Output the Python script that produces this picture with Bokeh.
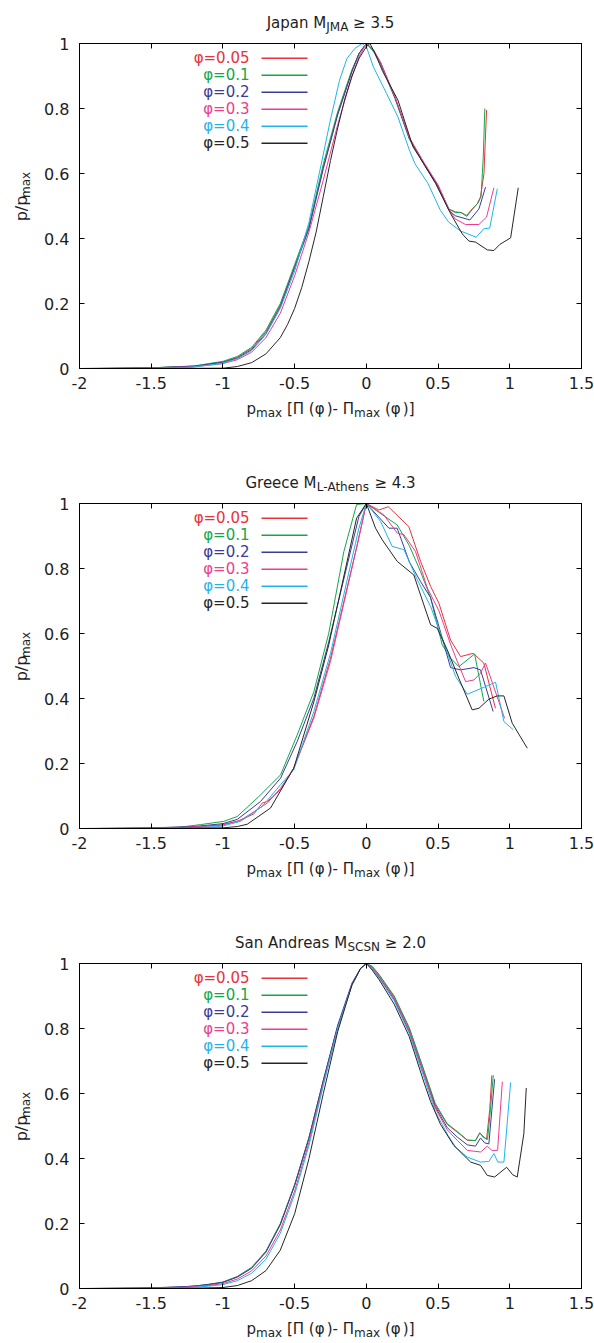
from bokeh.plotting import figure
from bokeh.layouts import column, row
from bokeh.models import Label, LinearAxis, FixedTicker, Range1d
from bokeh.embed import file_html
from bokeh.resources import INLINE

# ---------------- data ----------------
PHI_LABELS = ["φ=0.05", "φ=0.1", "φ=0.2", "φ=0.3", "φ=0.4", "φ=0.5"]
COLORS = ["#e8323c", "#12a84a", "#3b3b9c", "#ec3d8e", "#1fb4ec", "#262626"]

X_TICKS = [-2, -1.5, -1, -0.5, 0, 0.5, 1, 1.5]
X_TICK_LABELS = ["-2", "-1.5", "-1", "-0.5", "0", "0.5", "1", "1.5"]
Y_TICKS = [0, 0.2, 0.4, 0.6, 0.8, 1]
Y_TICK_LABELS = ["0", "0.2", "0.4", "0.6", "0.8", "1"]

# Japan
JP_005 = [(-2, 0), (-1.5, 0.002), (-1.2, 0.007), (-1.0, 0.02), (-0.9, 0.034), (-0.8, 0.062), (-0.7, 0.113),
          (-0.6, 0.195), (-0.5, 0.315), (-0.4, 0.435), (-0.3, 0.62), (-0.2, 0.785), (-0.1, 0.915), (-0.05, 0.97),
          (0, 1.0), (0.05, 0.978), (0.1, 0.94), (0.2, 0.835), (0.3, 0.71), (0.4, 0.632), (0.5, 0.562),
          (0.575, 0.491), (0.62, 0.482), (0.66, 0.48), (0.699, 0.471), (0.738, 0.491), (0.773, 0.507),
          (0.796, 0.528), (0.82, 0.6), (0.838, 0.795)]
JP_01 = [(-2, 0), (-1.5, 0.002), (-1.2, 0.008), (-1.0, 0.022), (-0.9, 0.037), (-0.8, 0.065), (-0.7, 0.118),
         (-0.6, 0.2), (-0.5, 0.32), (-0.4, 0.44), (-0.3, 0.63), (-0.2, 0.79), (-0.1, 0.92), (-0.05, 0.97),
         (0, 1.0), (0.05, 0.975), (0.1, 0.935), (0.2, 0.83), (0.3, 0.705), (0.4, 0.63), (0.5, 0.56),
         (0.575, 0.49), (0.62, 0.48), (0.66, 0.48), (0.7, 0.468), (0.74, 0.49), (0.78, 0.51), (0.8, 0.53),
         (0.815, 0.65), (0.826, 0.8)]
JP_02 = [(-1.88, 0), (-1.5, 0.002), (-1.2, 0.007), (-1.0, 0.019), (-0.9, 0.032), (-0.8, 0.058), (-0.7, 0.108),
         (-0.6, 0.19), (-0.5, 0.31), (-0.4, 0.43), (-0.3, 0.615), (-0.2, 0.78), (-0.1, 0.915), (-0.05, 0.97),
         (0, 1.0), (0.05, 0.98), (0.1, 0.94), (0.2, 0.833), (0.3, 0.708), (0.4, 0.63), (0.5, 0.56),
         (0.575, 0.487), (0.62, 0.47), (0.722, 0.457), (0.785, 0.491), (0.831, 0.558)]
JP_03 = [(-1.67, 0), (-1.2, 0.005), (-1.0, 0.015), (-0.9, 0.027), (-0.8, 0.05), (-0.7, 0.095), (-0.6, 0.17),
         (-0.5, 0.285), (-0.4, 0.42), (-0.3, 0.58), (-0.2, 0.75), (-0.1, 0.9), (-0.05, 0.96), (0, 1.0),
         (0.05, 0.98), (0.1, 0.94), (0.2, 0.835), (0.3, 0.71), (0.4, 0.635), (0.5, 0.565), (0.575, 0.49),
         (0.62, 0.46), (0.692, 0.443), (0.785, 0.443), (0.838, 0.466), (0.889, 0.556)]
JP_04 = [(-1.44, 0), (-1.225, 0.004), (-1.015, 0.015), (-0.9, 0.03), (-0.8, 0.055), (-0.7, 0.105), (-0.6, 0.185),
         (-0.5, 0.3), (-0.4, 0.45), (-0.3, 0.66), (-0.253, 0.76), (-0.187, 0.887), (-0.135, 0.954),
         (-0.08, 0.985), (-0.03, 1.0), (0, 0.99), (0.049, 0.928), (0.141, 0.846), (0.22, 0.774), (0.3, 0.672),
         (0.338, 0.631), (0.43, 0.569), (0.517, 0.486), (0.575, 0.45), (0.657, 0.423), (0.766, 0.404),
         (0.819, 0.43), (0.86, 0.432), (0.913, 0.553)]
JP_05 = [(-1.5, 0), (-1.0, 0.001), (-0.9, 0.006), (-0.8, 0.018), (-0.7, 0.045), (-0.6, 0.095), (-0.55, 0.135),
         (-0.5, 0.185), (-0.45, 0.25), (-0.4, 0.33), (-0.35, 0.42), (-0.3, 0.53), (-0.25, 0.64), (-0.2, 0.74),
         (-0.15, 0.83), (-0.1, 0.9), (-0.05, 0.955), (0, 0.99), (0.025, 1.0), (0.06, 0.97), (0.115, 0.913),
         (0.22, 0.826), (0.325, 0.682), (0.4, 0.63), (0.483, 0.569), (0.588, 0.476), (0.669, 0.414),
         (0.715, 0.392), (0.761, 0.389), (0.843, 0.365), (0.889, 0.363), (0.931, 0.382), (1.006, 0.402),
         (1.059, 0.556)]

# Greece
GR_005 = [(-2, 0), (-1.5, 0.001), (-1.2, 0.005), (-1.017, 0.011), (-0.9, 0.022), (-0.784, 0.045),
          (-0.726, 0.078), (-0.691, 0.083), (-0.598, 0.119), (-0.506, 0.186), (-0.366, 0.345), (-0.25, 0.524),
          (-0.064, 0.872), (0, 1.0), (0.087, 0.98), (0.153, 0.99), (0.296, 0.929), (0.378, 0.822),
          (0.448, 0.745), (0.506, 0.693), (0.587, 0.58), (0.657, 0.529), (0.745, 0.539), (0.819, 0.509),
          (0.9, 0.37)]
GR_01 = [(-2, 0), (-1.6, 0.001), (-1.3, 0.004), (-1.156, 0.012), (-0.994, 0.022), (-0.9, 0.037), (-0.75, 0.098),
         (-0.598, 0.165), (-0.482, 0.288), (-0.366, 0.421), (-0.262, 0.601), (-0.157, 0.852), (-0.068, 0.997),
         (0, 1.0), (0.08, 0.975), (0.215, 0.934), (0.3, 0.87), (0.378, 0.79), (0.448, 0.71), (0.494, 0.627),
         (0.529, 0.565), (0.587, 0.524), (0.645, 0.498), (0.755, 0.537), (0.819, 0.391)]
GR_02 = [(-1.9, 0), (-1.5, 0.002), (-1.2, 0.006), (-1.0, 0.015), (-0.9, 0.028), (-0.738, 0.083), (-0.598, 0.155),
         (-0.482, 0.268), (-0.366, 0.401), (-0.262, 0.575), (-0.052, 0.96), (0, 1.0), (0.157, 0.924),
         (0.215, 0.924), (0.3, 0.82), (0.378, 0.76), (0.448, 0.71), (0.52, 0.6), (0.587, 0.495),
         (0.657, 0.488), (0.75, 0.495), (0.796, 0.488), (0.884, 0.36)]
GR_03 = [(-1.7, 0), (-1.3, 0.003), (-1.017, 0.009), (-0.877, 0.025), (-0.691, 0.078), (-0.598, 0.124),
         (-0.506, 0.186), (-0.366, 0.34), (-0.25, 0.514), (-0.064, 0.872), (0, 1.0), (0.122, 0.965),
         (0.215, 0.909), (0.262, 0.904), (0.343, 0.852), (0.425, 0.74), (0.506, 0.67), (0.587, 0.567),
         (0.634, 0.514), (0.692, 0.452), (0.75, 0.457), (0.796, 0.478), (0.831, 0.509), (0.964, 0.339)]
GR_04 = [(-1.45, 0), (-1.2, 0.003), (-1.017, 0.006), (-0.877, 0.022), (-0.726, 0.068), (-0.598, 0.135),
         (-0.506, 0.181), (-0.366, 0.36), (-0.25, 0.539), (-0.052, 0.924), (0, 1.0), (0.099, 0.945),
         (0.18, 0.868), (0.262, 0.858), (0.35, 0.77), (0.448, 0.683), (0.55, 0.56), (0.622, 0.468),
         (0.704, 0.413), (0.901, 0.45), (0.959, 0.329), (1.024, 0.304)]
GR_05 = [(-1.5, 0), (-1.0, 0.002), (-0.9, 0.006), (-0.831, 0.013), (-0.668, 0.063), (-0.506, 0.186),
         (-0.366, 0.39), (-0.262, 0.565), (-0.068, 0.955), (0, 1.0), (0.064, 0.924), (0.111, 0.888),
         (0.215, 0.822), (0.331, 0.78), (0.401, 0.688), (0.448, 0.627), (0.494, 0.616), (0.564, 0.55),
         (0.645, 0.462), (0.738, 0.365), (0.785, 0.37), (0.854, 0.398), (0.913, 0.408), (0.959, 0.408),
         (1.017, 0.324), (1.122, 0.247)]

# San Andreas
SA_005 = [(-2, 0), (-1.6, 0.001), (-1.3, 0.004), (-1.1, 0.011), (-1.0, 0.019), (-0.9, 0.036), (-0.8, 0.064),
          (-0.7, 0.114), (-0.6, 0.198), (-0.5, 0.318), (-0.4, 0.463), (-0.3, 0.64), (-0.2, 0.805),
          (-0.1, 0.935), (-0.04, 0.985), (0, 1.0), (0.04, 0.99), (0.089, 0.964), (0.194, 0.897), (0.299, 0.8),
          (0.401, 0.67), (0.48, 0.565), (0.564, 0.505), (0.634, 0.481), (0.704, 0.456), (0.761, 0.455),
          (0.791, 0.479), (0.81, 0.47), (0.838, 0.459), (0.86, 0.55), (0.875, 0.656)]
SA_01 = [(-2, 0), (-1.6, 0.001), (-1.3, 0.004), (-1.1, 0.012), (-1.0, 0.02), (-0.9, 0.037), (-0.8, 0.065),
         (-0.7, 0.115), (-0.6, 0.2), (-0.5, 0.32), (-0.4, 0.465), (-0.3, 0.64), (-0.2, 0.805),
         (-0.1, 0.935), (-0.04, 0.985), (0, 1.0), (0.04, 0.992), (0.089, 0.966), (0.194, 0.9), (0.299, 0.803),
         (0.401, 0.672), (0.48, 0.57), (0.564, 0.507), (0.634, 0.483), (0.704, 0.457), (0.761, 0.455),
         (0.791, 0.479), (0.815, 0.465), (0.845, 0.459), (0.865, 0.55), (0.885, 0.656)]
SA_02 = [(-1.92, 0), (-1.5, 0.002), (-1.2, 0.007), (-1.0, 0.019), (-0.9, 0.035), (-0.8, 0.062), (-0.7, 0.112),
         (-0.6, 0.196), (-0.5, 0.317), (-0.4, 0.463), (-0.3, 0.64), (-0.2, 0.81),
         (-0.1, 0.94), (-0.04, 0.985), (0, 1.0), (0.04, 0.985), (0.089, 0.958), (0.194, 0.89), (0.299, 0.79),
         (0.401, 0.66), (0.48, 0.56), (0.564, 0.495), (0.634, 0.466), (0.704, 0.442), (0.761, 0.438),
         (0.796, 0.463), (0.825, 0.448), (0.854, 0.445), (0.894, 0.644)]
SA_03 = [(-1.7, 0), (-1.3, 0.003), (-1.1, 0.009), (-1.0, 0.015), (-0.9, 0.029), (-0.8, 0.054), (-0.7, 0.1),
         (-0.6, 0.18), (-0.5, 0.3), (-0.4, 0.45), (-0.3, 0.63), (-0.2, 0.8),
         (-0.1, 0.935), (-0.04, 0.985), (0, 1.0), (0.04, 0.988), (0.089, 0.96), (0.194, 0.893), (0.299, 0.795),
         (0.401, 0.663), (0.48, 0.555), (0.564, 0.488), (0.634, 0.456), (0.704, 0.425), (0.796, 0.42),
         (0.843, 0.438), (0.875, 0.425), (0.915, 0.425), (0.948, 0.636)]
SA_04 = [(-1.45, 0), (-1.2, 0.004), (-1.1, 0.007), (-1.0, 0.012), (-0.9, 0.024), (-0.8, 0.047), (-0.7, 0.09),
         (-0.6, 0.17), (-0.5, 0.29), (-0.4, 0.44), (-0.3, 0.625), (-0.2, 0.8),
         (-0.1, 0.935), (-0.04, 0.985), (0, 1.0), (0.04, 0.985), (0.089, 0.955), (0.194, 0.885), (0.299, 0.785),
         (0.401, 0.65), (0.48, 0.545), (0.564, 0.475), (0.622, 0.435), (0.704, 0.404), (0.796, 0.389),
         (0.854, 0.391), (0.889, 0.415), (0.917, 0.389), (0.959, 0.389), (1.006, 0.634)]
SA_05 = [(-1.6, 0), (-1.2, 0.001), (-1.0, 0.003), (-0.9, 0.009), (-0.8, 0.024), (-0.7, 0.055), (-0.6, 0.118),
         (-0.5, 0.23), (-0.4, 0.4), (-0.3, 0.6), (-0.2, 0.79), (-0.1, 0.935),
         (-0.04, 0.985), (0, 1.0), (0.04, 0.98), (0.089, 0.95), (0.194, 0.875), (0.299, 0.775), (0.401, 0.635),
         (0.448, 0.575), (0.517, 0.505), (0.61, 0.44), (0.727, 0.389), (0.796, 0.379), (0.843, 0.348),
         (0.894, 0.343), (0.978, 0.373), (1.02, 0.35), (1.052, 0.343), (1.098, 0.476), (1.115, 0.617)]

TITLES = [("Japan M", "JMA", " ≥ 3.5"), ("Greece M", "L-Athens", " ≥ 4.3"), ("San Andreas M", "SCSN", " ≥ 2.0")]
SERIES = [[JP_005, JP_01, JP_02, JP_03, JP_04, JP_05],
          [GR_005, GR_01, GR_02, GR_03, GR_04, GR_05],
          [SA_005, SA_01, SA_02, SA_03, SA_04, SA_05]]

# ---------------- layout ----------------
FONT = "DejaVu Sans"
TXT = "#1e1e1e"
W_TOTAL = 594
TITLE_H = 35          # strip holding the title
YLAB_W = 40           # strip holding the rotated y label
BORDER_L = 39         # main figure: room for y tick labels
BORDER_T = 8
BORDER_B = 26
FRAME_W = 502
FRAME_H = 325
XLAB_H = [66, 66, 29]
XR = (-2, 1.5)
YR = (0, 1)

EM = {' ': .318, '(': .390, ')': .390, '-': .361, '.': .318, '/': .337, '=': .838, '[': .390, ']': .390,
      '≥': .838, 'A': .684, 'C': .698, 'G': .775, 'J': .295, 'L': .557, 'M': .863, 'N': .748, 'S': .635,
      'a': .613, 'c': .550, 'd': .635, 'e': .615, 'h': .634, 'm': .974, 'n': .634, 'p': .635, 'r': .411,
      's': .521, 't': .392, 'x': .592, 'Π': .752, 'φ': .80}
for _d in "0123456789":
    EM[_d] = .636


def tw(s, size):
    return sum(EM.get(c, 0.6) for c in s) * size


def style_axis(ax, ticks, labels, show, standoff):
    ax.ticker = FixedTicker(ticks=ticks, minor_ticks=[])
    ax.major_label_overrides = {t: (l if show else "") for t, l in zip(ticks, labels)}
    ax.major_tick_in = 5
    ax.major_tick_out = 0
    ax.minor_tick_line_color = None
    ax.axis_line_color = "black"
    ax.major_tick_line_color = "black"
    ax.major_label_text_font = FONT
    ax.major_label_text_font_size = "16px" if show else "0px"
    ax.major_label_text_color = TXT
    ax.major_label_standoff = standoff


def text_strip(w, h):
    f = figure(width=w, height=h, x_range=Range1d(0, w), y_range=Range1d(0, h),
               x_axis_type=None, y_axis_type=None, output_backend="svg", toolbar_location=None,
               min_border=0, outline_line_color=None)
    f.xgrid.visible = False
    f.ygrid.visible = False
    return f


def composite(f, h, pieces, cx, base):
    """pieces laid left to right, centred on cx; base = baseline (px from strip top).
    Leading/trailing blanks are turned into offsets (SVG would collapse them)."""
    total = sum(tw(s, sz) for s, sz, off in pieces)
    xpos = cx - total / 2
    for s, sz, off in pieces:
        lead = len(s) - len(s.lstrip(" "))
        f.add_layout(Label(x=xpos + lead * EM[' '] * sz, y=h - (base + off), text=s.strip(" "),
                           text_align="left", text_baseline="alphabetic", text_font=FONT,
                           text_font_size=f"{sz}px", text_color=TXT))
        xpos += tw(s, sz)


def make_panel(i):
    main_h = BORDER_T + FRAME_H + BORDER_B
    main_w = W_TOTAL - YLAB_W
    p = figure(width=main_w, height=main_h, x_range=Range1d(*XR), y_range=Range1d(*YR),
               output_backend="svg", toolbar_location=None,
               min_border_left=BORDER_L, min_border_right=main_w - BORDER_L - FRAME_W,
               min_border_top=BORDER_T, min_border_bottom=BORDER_B)
    p.outline_line_color = "black"
    p.xgrid.visible = False
    p.ygrid.visible = False
    style_axis(p.xaxis[0], X_TICKS, X_TICK_LABELS, True, 8)
    style_axis(p.yaxis[0], Y_TICKS, Y_TICK_LABELS, True, 10)
    top_ax = LinearAxis()
    right_ax = LinearAxis()
    style_axis(top_ax, X_TICKS, X_TICK_LABELS, False, 0)
    style_axis(right_ax, Y_TICKS, Y_TICK_LABELS, False, 0)
    p.add_layout(top_ax, "above")
    p.add_layout(right_ax, "right")

    def X(px):   # px measured from the frame's left edge
        return XR[0] + px / FRAME_W * (XR[1] - XR[0])

    def Y(py):   # py measured from the frame's top edge
        return YR[0] + (FRAME_H - py) / FRAME_H * (YR[1] - YR[0])

    for pts, col in zip(SERIES[i], COLORS):
        p.line([a for a, b in pts], [b for a, b in pts], line_color=col, line_width=1)

    # legend: right-aligned text followed by a short line sample
    for k, (lab, col) in enumerate(zip(PHI_LABELS, COLORS)):
        py = 14.7 + 17 * k
        p.add_layout(Label(x=X(170), y=Y(py), text=lab, text_align="right", text_baseline="middle",
                           text_font=FONT, text_font_size="15px", text_color=col))
        p.segment(x0=[X(182)], y0=[Y(py)], x1=[X(228)], y1=[Y(py)], line_color=col, line_width=1.4)

    cx = YLAB_W + BORDER_L + FRAME_W / 2

    # title strip
    t = text_strip(W_TOTAL, TITLE_H)
    t1, t2, t3 = TITLES[i]
    composite(t, TITLE_H, [(t1, 15, 0), (t2, 12, 4), (t3, 15, 0)], cx, 22)

    # y-label strip (rotated, reading upward)
    yl = text_strip(YLAB_W, main_h)
    cy = BORDER_T + FRAME_H / 2
    ypieces = [("p/p", 16, 0), ("max", 12, 4)]
    total = sum(tw(s, sz) for s, sz, off in ypieces)
    ypos = cy + total / 2
    for s, sz, off in ypieces:
        yl.add_layout(Label(x=21 + off, y=main_h - ypos, text=s, angle=1.5707963, text_align="left",
                            text_baseline="alphabetic", text_font=FONT, text_font_size=f"{sz}px",
                            text_color=TXT))
        ypos -= tw(s, sz)

    # x-label strip
    xh = XLAB_H[i]
    xl = text_strip(W_TOTAL, xh)
    composite(xl, xh, [("p", 15, 0), ("max", 12, 4), (" [", 15, 0), ("Π", 15, 0), (" (", 15, 0),
                       ("φ", 15, 0), (")- ", 15, 0), ("Π", 15, 0), ("max", 12, 4), (" (", 15, 0),
                       ("φ", 15, 0), (")]", 15, 0)], cx, 14)

    return column(t, row(yl, p, spacing=0), xl, spacing=0)


layout = column(*[make_panel(i) for i in range(3)], spacing=0)
open("out.html", "w").write(file_html(layout, INLINE))
